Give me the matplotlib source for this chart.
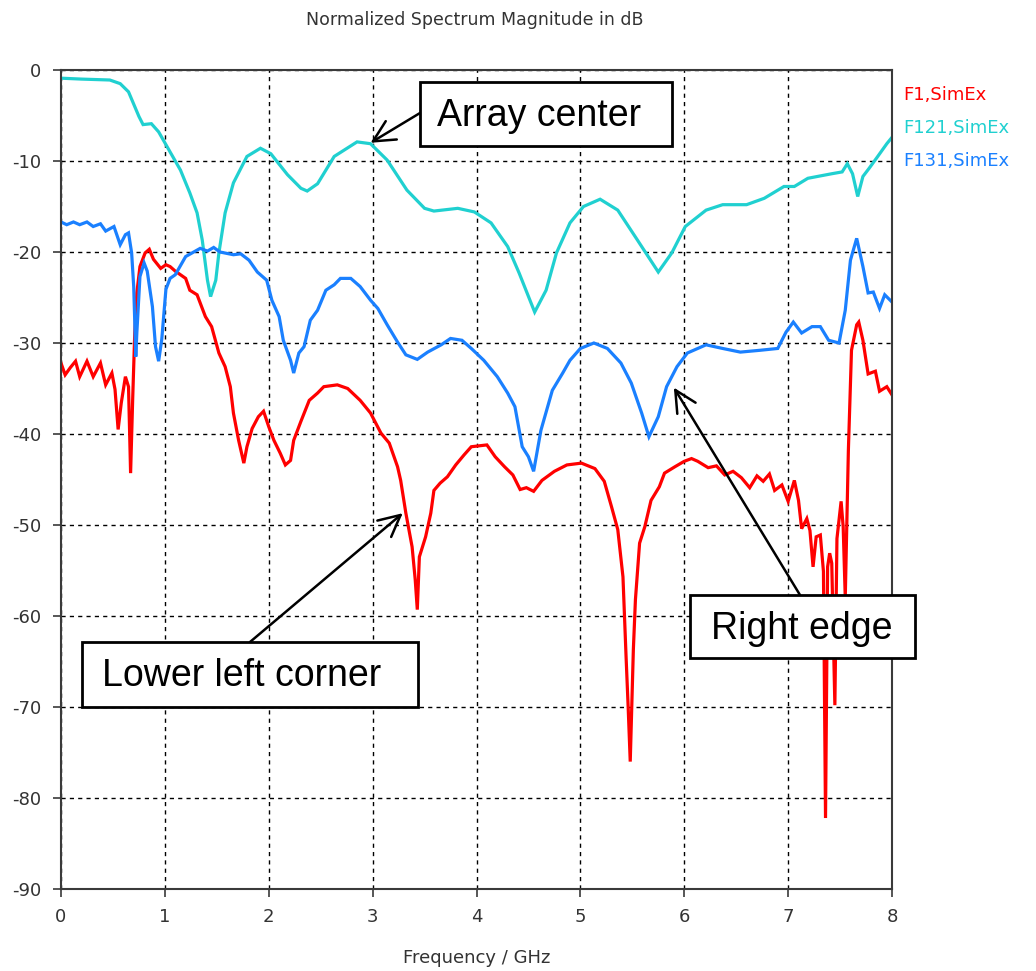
import matplotlib
matplotlib.use("Agg")
import matplotlib.pyplot as plt
from matplotlib.patches import Rectangle

plt.rcParams["axes.unicode_minus"] = False

# F1 probe (red)
f1_freq = [0, 0.04, 0.09, 0.14, 0.18, 0.25, 0.31, 0.38, 0.43, 0.49, 0.52, 0.55, 0.58, 0.62, 0.65,
           0.67, 0.69, 0.71, 0.73, 0.76, 0.81, 0.85, 0.89, 0.96, 1.01, 1.05, 1.10, 1.20, 1.24, 1.31,
           1.39, 1.45, 1.52, 1.58, 1.63, 1.66, 1.71, 1.76, 1.79, 1.84, 1.90, 1.95, 2.00, 2.05, 2.11,
           2.16, 2.21, 2.24, 2.31, 2.39, 2.47, 2.53, 2.66, 2.76, 2.88, 2.98, 3.08, 3.16, 3.24, 3.27,
           3.32, 3.38, 3.41, 3.43, 3.45, 3.51, 3.56, 3.59, 3.65, 3.72, 3.80, 3.88, 3.95, 4.10, 4.18,
           4.27, 4.35, 4.42, 4.48, 4.55, 4.63, 4.75, 4.87, 5.01, 5.14, 5.23, 5.30, 5.36, 5.41, 5.44,
           5.46, 5.48, 5.51, 5.53, 5.57, 5.62, 5.68, 5.76, 5.81, 5.91, 6.00, 6.07, 6.13, 6.23, 6.31,
           6.39, 6.47, 6.55, 6.63, 6.70, 6.76, 6.82, 6.87, 6.94, 7.00, 7.06, 7.10, 7.13, 7.18, 7.21,
           7.24, 7.27, 7.31, 7.34, 7.36, 7.38, 7.40, 7.42, 7.45, 7.47, 7.51, 7.53, 7.55, 7.58, 7.61,
           7.66, 7.68, 7.72, 7.77, 7.84, 7.88, 7.95, 8.0]
f1_db = [-32.2, -33.5, -32.7, -32.0, -33.7, -32.0, -33.7, -32.2, -34.6, -33.3, -35.1, -39.5, -36.6, -33.7, -34.8,
         -44.3, -36.2, -28.9, -24.5, -21.6, -20.1, -19.7, -20.8, -21.8, -21.4, -21.6, -22.1, -22.9, -24.2, -24.7,
         -27.1, -28.2, -31.1, -32.6, -34.8, -37.7, -40.7, -43.2, -41.4, -39.4, -38.1, -37.5, -39.2, -40.7, -42.1,
         -43.4, -42.9, -40.7, -38.6, -36.3, -35.5, -34.8, -34.6, -35.0, -36.3, -37.7, -39.9, -41.0, -43.6, -45.1,
         -48.7, -52.4, -56.0, -59.3, -53.5, -51.3, -48.7, -46.2, -45.4, -44.7, -43.4, -42.3, -41.4, -41.2, -42.5,
         -43.6, -44.5, -46.1, -45.9, -46.3, -45.1, -44.1, -43.4, -43.2, -43.8, -45.2, -48.0, -50.5, -55.7, -64.5,
         -70.0, -76.0, -63.7, -58.2, -52.0, -50.2, -47.3, -45.8, -44.3, -43.6, -43.0, -42.7, -43.0, -43.7, -43.5,
         -44.5, -44.1, -44.8, -45.9, -44.6, -45.2, -44.4, -46.2, -45.6, -47.4, -45.1, -47.3, -50.4, -49.3, -50.6,
         -54.6, -51.3, -51.1, -55.1, -82.2, -54.6, -53.1, -54.2, -69.8, -51.5, -47.4, -50.2, -58.0, -41.8, -30.8,
         -28.0, -27.7, -29.7, -33.4, -33.1, -35.3, -34.8, -35.7]

# F121 probe (cyan)
f121_freq = [0, 0.2, 0.47, 0.57, 0.65, 0.75, 0.79, 0.87, 0.94, 1.02, 1.15, 1.24, 1.31, 1.36, 1.41,
             1.44, 1.49, 1.52, 1.58, 1.66, 1.79, 1.92, 2.02, 2.18, 2.31, 2.37, 2.47, 2.63, 2.85, 2.98,
             3.14, 3.33, 3.50, 3.59, 3.82, 3.98, 4.14, 4.30, 4.41, 4.56, 4.67, 4.77, 4.90, 5.03, 5.19,
             5.36, 5.55, 5.75, 5.88, 6.01, 6.21, 6.37, 6.60, 6.77, 6.96, 7.06, 7.19, 7.42, 7.52, 7.57,
             7.62, 7.67, 7.72, 7.78, 7.85, 7.95, 8.0]
f121_db = [-0.9, -1.0, -1.1, -1.5, -2.4, -5.1, -6.0, -5.9, -6.8, -8.4, -11.0, -13.5, -15.7, -18.7, -23.1,
           -24.9, -23.1, -20.1, -15.7, -12.4, -9.5, -8.6, -9.2, -11.5, -13.0, -13.3, -12.5, -9.5, -7.9, -8.1,
           -9.9, -13.2, -15.2, -15.5, -15.2, -15.6, -16.8, -19.4, -22.3, -26.6, -24.2, -20.1, -16.8, -15.0, -14.2,
           -15.4, -18.7, -22.2, -20.1, -17.2, -15.4, -14.8, -14.8, -14.1, -12.8, -12.8, -11.9, -11.4, -11.2, -10.3,
           -11.4, -13.9, -11.7, -10.8, -9.7, -8.1, -7.4]

# F131 probe (blue)
f131_freq = [0, 0.055, 0.12, 0.18, 0.25, 0.31, 0.38, 0.43, 0.51, 0.57, 0.62, 0.65, 0.68, 0.70, 0.72,
             0.73, 0.76, 0.80, 0.83, 0.88, 0.91, 0.94, 0.97, 1.01, 1.05, 1.10, 1.20, 1.34, 1.41, 1.47,
             1.53, 1.66, 1.73, 1.81, 1.89, 1.98, 2.03, 2.10, 2.14, 2.21, 2.24, 2.29, 2.34, 2.40, 2.47,
             2.55, 2.63, 2.69, 2.79, 2.88, 2.98, 3.05, 3.14, 3.24, 3.32, 3.43, 3.53, 3.66, 3.75, 3.86,
             3.95, 4.07, 4.20, 4.30, 4.37, 4.44, 4.50, 4.55, 4.62, 4.73, 4.83, 4.90, 5.00, 5.13, 5.26,
             5.39, 5.49, 5.59, 5.66, 5.75, 5.83, 5.93, 6.03, 6.21, 6.37, 6.54, 6.73, 6.90, 6.98, 7.05,
             7.13, 7.23, 7.31, 7.39, 7.49, 7.55, 7.60, 7.66, 7.72, 7.77, 7.82, 7.88, 7.93, 8.0]
f131_db = [-16.7, -17.0, -16.7, -17.0, -16.7, -17.2, -16.9, -17.7, -17.2, -19.2, -18.1, -17.9, -20.1, -23.8, -31.5,
           -28.9, -22.7, -21.2, -22.1, -26.0, -30.4, -32.0, -29.6, -24.1, -22.9, -22.5, -20.5, -19.6, -19.9, -19.5,
           -20.0, -20.3, -20.2, -20.9, -22.2, -23.1, -25.3, -27.1, -29.7, -31.9, -33.3, -31.1, -30.4, -27.5, -26.4,
           -24.2, -23.6, -22.9, -22.9, -23.8, -25.3, -26.2, -28.0, -29.9, -31.3, -31.8, -31.0, -30.2, -29.5, -29.7,
           -30.6, -31.9, -33.7, -35.5, -37.0, -41.4, -42.5, -44.1, -39.6, -35.2, -33.3, -31.9, -30.6, -30.0, -30.6,
           -32.2, -34.4, -37.7, -40.3, -38.1, -34.8, -32.6, -31.1, -30.2, -30.6, -31.0, -30.8, -30.6, -28.8, -27.7,
           -28.9, -28.2, -28.2, -29.7, -30.0, -26.4, -20.9, -18.5, -21.6, -24.5, -24.4, -26.2, -24.7, -25.5]

series = [
    ("F1,SimEx", f1_freq, f1_db, "#FF0000"),
    ("F121,SimEx", f121_freq, f121_db, "#20D0D0"),
    ("F131,SimEx", f131_freq, f131_db, "#1A80FF"),
]

W, H = 1036, 971
fig = plt.figure(figsize=(W / 100, H / 100), dpi=100)
fig.patch.set_facecolor("white")

# axes box in pixels: left 61, right 892, top 70, bottom 889
ax = fig.add_axes([61 / W, 1 - 889 / H, 831 / W, 819 / H])

for name, fx, fy, col in series:
    ax.plot(fx, fy, color=col, lw=2.3, solid_joinstyle="miter")

ax.set_xlim(0, 8)
ax.set_ylim(-90, 0)
ax.set_xticks(range(0, 9))
ax.set_yticks(range(-90, 1, 10))
ax.grid(True, color="black", linestyle=(0, (3, 3)), linewidth=1.0)
for sp in ax.spines.values():
    sp.set_color("#3a3a3a")
    sp.set_linewidth(1.5)
ax.tick_params(direction="out", length=6, width=1.2, color="#3a3a3a",
               labelsize=13, labelcolor="#333333", pad=8)
ax.set_xlabel("Frequency / GHz", fontsize=13, color="#333333", labelpad=16)

fig.text(475 / W, 1 - 20 / H, "Normalized Spectrum Magnitude in dB",
         ha="center", va="center", fontsize=12.5, color="#333333")

# legend entries on the right
for i, (name, fx, fy, col) in enumerate(series):
    fig.text(903 / W, 1 - (95 + 33 * i) / H, name, ha="left", va="center",
             fontsize=13, color=col)

# callout boxes (pixel rectangles) with arrows to the curves
callouts = [
    ("Array center", (420, 82, 252, 64), 437, (420, 113), (2.98, -8.0)),
    ("Lower left corner", (82, 642, 336, 65), 102, (250, 642), (3.29, -48.7)),
    ("Right edge", (690, 595, 225, 63), 711, (800, 595), (5.90, -34.9)),
]
for label, (bx, by, bw, bh), tx, (ax0, ay0), tip in callouts:
    fig.patches.append(Rectangle((bx / W, 1 - (by + bh) / H), bw / W, bh / H,
                                 transform=fig.transFigure, facecolor="white",
                                 edgecolor="black", linewidth=2, zorder=5))
    fig.text(tx / W, 1 - (by + bh / 2 + 2) / H, label, ha="left", va="center",
             fontsize=27, family="Liberation Sans", color="black", zorder=6)
    ax.annotate("", xy=tip, xycoords="data",
                xytext=(ax0 / W, 1 - ay0 / H), textcoords="figure fraction",
                arrowprops=dict(arrowstyle="->,head_length=0.7,head_width=0.35",
                                color="black", lw=1.8, mutation_scale=22,
                                shrinkA=0, shrinkB=0))

fig.savefig("out.png", dpi=100, facecolor="white")
